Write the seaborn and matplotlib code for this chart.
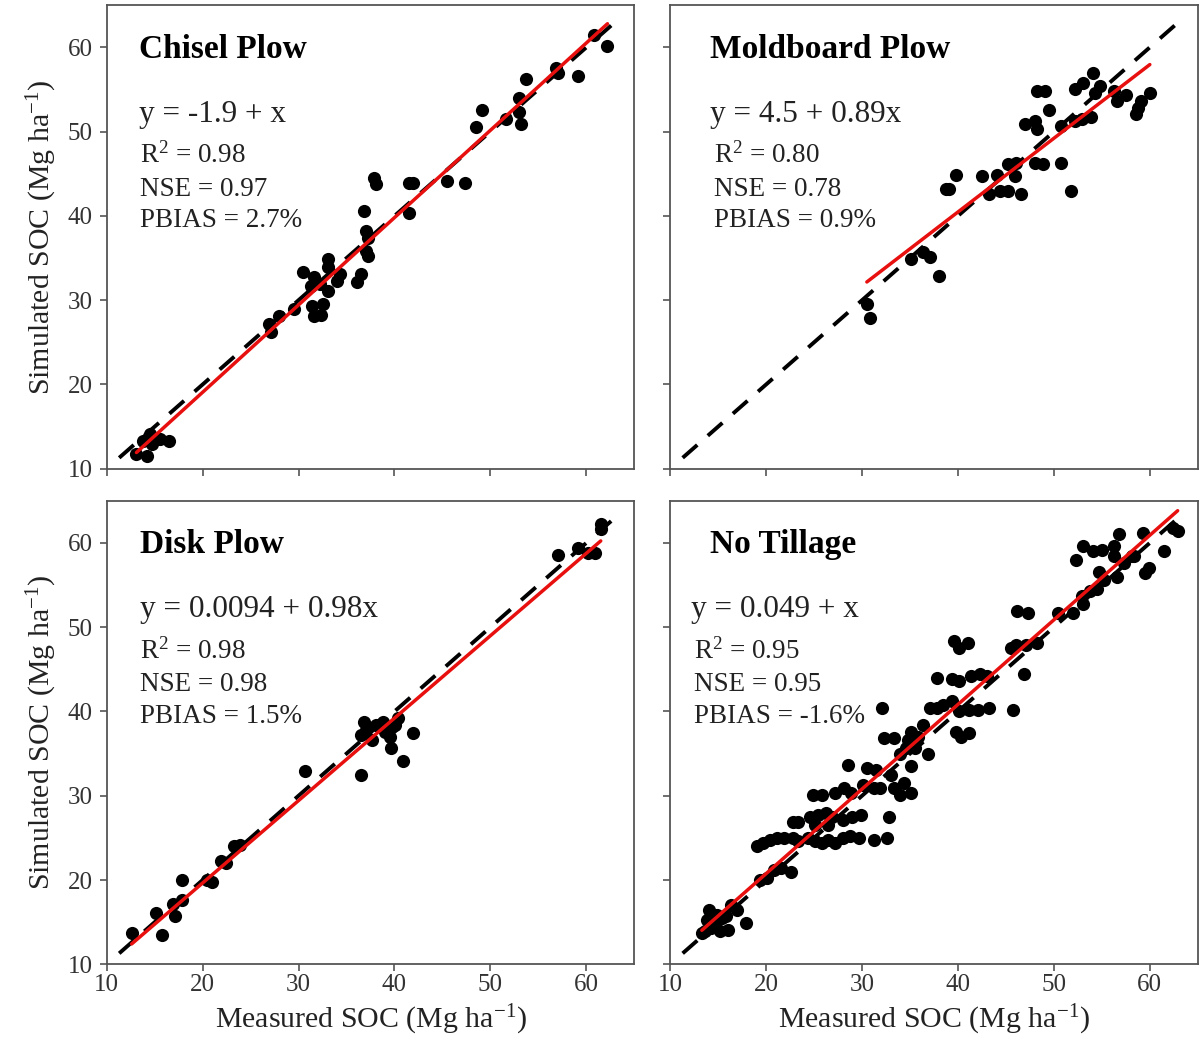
import pandas as pd
import matplotlib
matplotlib.use("Agg")
import matplotlib.pyplot as plt
import seaborn as sns

# panel names and fit statistics as printed on the chart
titles = ["Chisel Plow", "Moldboard Plow", "Disk Plow", "No Tillage"]
equations = ["y = -1.9 + x", "y = 4.5 + 0.89x", "y = 0.0094 + 0.98x", "y = 0.049 + x"]
r2_values = ["0.98", "0.80", "0.98", "0.95"]
nse_values = ["0.97", "0.78", "0.98", "0.95"]
pbias_values = ["2.7%", "0.9%", "1.5%", "-1.6%"]

# measured vs simulated SOC (Mg ha-1)
chisel_measured = [13.1, 14.2, 13.8, 14.7, 15.6, 16.5, 14.5, 26.9, 27.1, 28.0, 29.5,
                   30.5, 31.6, 31.3, 33.1, 33.1, 34.3, 34.0, 33.1, 32.5, 31.4, 31.6, 32.3, 32.2,
                   36.5, 36.1, 36.8, 37.0, 37.2, 37.0, 37.2, 37.9, 38.1,
                   41.5, 41.5, 41.9, 45.5, 47.3, 48.5, 49.1, 51.6, 53.0, 53.2, 53.0, 53.7,
                   56.8, 57.0, 59.1, 60.8, 62.2]
chisel_simulated = [11.7, 11.5, 13.3, 12.9, 13.5, 13.3, 14.1, 27.2, 26.2, 28.1, 28.9,
                    33.3, 32.7, 31.7, 34.9, 33.9, 33.1, 32.3, 31.1, 29.5, 29.3, 28.1, 28.3, 31.9,
                    33.1, 32.1, 40.6, 38.2, 37.4, 35.8, 35.3, 44.5, 43.8,
                    40.4, 43.9, 43.9, 44.1, 43.9, 50.5, 52.6, 51.5, 52.3, 50.9, 54.0, 56.2,
                    57.6, 57.0, 56.6, 61.5, 60.2]

moldboard_measured = [30.5, 30.8, 35.1, 36.4, 37.1, 38.0, 38.7, 39.1, 39.8, 42.5, 43.2,
                      44.1, 44.4, 45.2, 45.2, 46.1, 45.9, 46.6, 47.0, 48.0, 48.2, 48.2,
                      49.1, 49.5, 48.0, 48.9, 50.7, 50.7, 51.8, 52.2, 52.9, 53.9, 52.2,
                      53.0, 54.1, 54.8, 54.3, 56.3, 56.6, 57.5, 58.6, 58.8, 59.1, 60.0]
moldboard_simulated = [29.5, 27.9, 34.9, 35.7, 35.1, 32.9, 43.2, 43.2, 44.9, 44.7, 42.6,
                       44.9, 43.0, 43.0, 46.1, 46.3, 44.7, 42.6, 50.9, 51.3, 50.3, 54.8,
                       54.8, 52.6, 46.3, 46.1, 50.7, 46.3, 43.0, 51.3, 51.5, 51.7, 55.1,
                       55.8, 57.0, 55.4, 54.6, 54.8, 53.6, 54.4, 52.1, 52.8, 53.6, 54.6]

disk_measured = [12.6, 15.8, 15.1, 17.1, 16.9, 17.9, 17.9, 20.5, 21.0, 21.9, 22.4, 23.3,
                 23.9, 30.7, 36.5, 36.5, 36.8, 37.0, 37.7, 38.1, 38.8, 39.0, 39.5, 39.7,
                 40.1, 40.4, 39.6, 40.9, 41.9, 57.0, 59.1, 60.2, 60.9, 61.5, 61.5]
disk_simulated = [13.7, 13.5, 16.1, 15.7, 17.2, 17.6, 20.0, 20.0, 19.8, 22.2, 22.0, 24.0,
                  24.2, 32.9, 32.5, 37.2, 38.8, 37.8, 36.6, 38.4, 38.8, 37.6, 37.0, 38.2,
                  38.4, 39.2, 35.7, 34.1, 37.4, 58.6, 59.4, 58.8, 58.8, 62.2, 61.6]

notill_measured = [13.3, 14.0, 13.8, 14.7, 15.2, 16.0, 15.8, 16.3, 17.0, 17.9, 14.3, 15.4,
                   13.6, 14.9, 19.4, 20.1, 20.8, 21.5, 22.6,
                   19.0, 19.7, 20.4, 21.1, 21.9, 22.8, 23.3, 24.4, 25.1, 25.8, 26.5, 27.2,
                   28.0, 28.7, 29.7, 31.2, 32.6,
                   22.8, 23.3, 24.6, 25.4, 26.2, 26.9, 28.0, 29.0, 29.9, 32.8, 25.1, 26.5,
                   24.9, 25.8, 27.2, 28.1, 28.9, 30.1, 31.2, 31.9, 33.3, 34.0, 35.1, 34.4,
                   28.5, 30.5, 31.5, 33.0, 32.1,
                   32.3, 33.3, 34.0, 34.8, 35.1, 35.8, 36.4, 36.9, 35.1, 34.6, 35.5,
                   37.1, 37.8, 38.4, 39.4, 40.1, 41.2, 42.1, 43.2, 45.7,
                   39.8, 40.3, 41.2, 37.8, 39.4, 40.1, 41.4, 42.3, 43.0,
                   39.6, 40.1, 41.0, 45.5, 46.0, 47.1, 48.2, 46.9, 46.2, 47.3,
                   50.4, 52.0, 53.0, 52.9, 53.8, 54.5, 55.2, 54.7, 56.6, 57.3, 58.4, 58.1,
                   52.3, 53.0, 54.1, 55.0, 56.3, 56.3, 56.8, 59.3, 59.5, 59.9, 61.5, 62.4, 62.9]
notill_simulated = [13.7, 16.5, 15.3, 14.7, 13.9, 14.1, 15.7, 17.0, 16.5, 14.9, 14.3, 15.5,
                    13.9, 15.9, 20.0, 20.2, 21.2, 21.4, 21.0,
                    24.0, 24.4, 24.8, 25.0, 25.0, 25.0, 24.6, 25.0, 24.6, 24.4, 24.8, 24.4,
                    25.0, 25.2, 25.0, 24.8, 25.0,
                    26.9, 26.9, 27.5, 27.7, 27.9, 27.5, 27.1, 27.5, 27.7, 27.5, 26.5, 26.5,
                    30.1, 30.1, 30.3, 30.9, 30.3, 31.3, 30.9, 30.9, 30.9, 30.1, 30.3, 31.5,
                    33.7, 33.3, 33.1, 32.5, 40.4,
                    36.8, 36.8, 34.9, 36.6, 37.6, 37.0, 38.4, 34.9, 33.5, 35.7, 35.7,
                    40.4, 40.4, 40.8, 41.2, 40.0, 40.2, 40.2, 40.4, 40.2,
                    37.6, 37.0, 37.4, 44.0, 43.8, 43.6, 44.2, 44.4, 44.2,
                    48.3, 47.5, 48.1, 47.5, 47.9, 47.9, 48.1, 44.4, 51.9, 51.7,
                    51.7, 51.7, 52.7, 53.7, 54.3, 54.5, 55.6, 56.6, 56.0, 57.6, 58.4, 58.4,
                    58.0, 59.6, 59.0, 59.2, 59.6, 58.4, 61.0, 61.2, 56.4, 57.0, 59.0, 61.8, 61.4]

# 1:1 reference line extent
one_to_one = [11.3, 63.6]

frames = []
for name, meas, sim in zip(titles,
                           [chisel_measured, moldboard_measured, disk_measured, notill_measured],
                           [chisel_simulated, moldboard_simulated, disk_simulated, notill_simulated]):
    frames.append(pd.DataFrame({"panel": name, "measured": meas, "simulated": sim}))
df = pd.concat(frames, ignore_index=True)

sns.set_theme(style="ticks")
plt.rcParams["font.family"] = ["Liberation Serif", "DejaVu Serif"]
plt.rcParams["mathtext.fontset"] = "custom"
plt.rcParams["mathtext.rm"] = "Liberation Serif"
plt.rcParams["mathtext.it"] = "Liberation Serif:italic"
plt.rcParams["mathtext.bf"] = "Liberation Serif:bold"

fig, axes = plt.subplots(2, 2, figsize=(11.99, 10.38), dpi=100, sharex=True, sharey=True)
fig.subplots_adjust(left=0.089, right=0.999, top=0.995, bottom=0.071, wspace=0.068, hspace=0.069)

# text anchors (axes fraction) per panel: title x, equation x, stats x
text_x = [(0.062, 0.062, 0.064), (0.076, 0.076, 0.083), (0.064, 0.064, 0.064), (0.076, 0.040, 0.046)]
text_color = "#222222"

for i, ax in enumerate(axes.flat):
    sub = df[df["panel"] == titles[i]]
    sns.scatterplot(data=sub, x="measured", y="simulated", ax=ax, color="black",
                    s=90, edgecolor="black", linewidth=0, zorder=2, legend=False)
    ax.plot(one_to_one, one_to_one, color="black", lw=2.8, dashes=(5, 3.6), zorder=3)
    sns.regplot(data=sub, x="measured", y="simulated", ax=ax, scatter=False, ci=None,
                truncate=True, line_kws={"color": "#e8100f", "lw": 2.5, "zorder": 4})

    ax.set_xlim(10, 65)
    ax.set_ylim(10, 65)
    ax.set_xticks([10, 20, 30, 40, 50, 60])
    ax.set_yticks([10, 20, 30, 40, 50, 60])
    for sp in ax.spines.values():
        sp.set_color("#555555")
        sp.set_linewidth(1.3)
    ax.tick_params(direction="out", length=5, width=1.2, color="#555555",
                   labelsize=18, labelcolor="#333333")
    ax.tick_params(axis="x", pad=2)
    ax.tick_params(axis="y", pad=5)
    ax.set_xlabel("")
    ax.set_ylabel("")

    tx, ex, sx = text_x[i]
    ax.text(tx, 0.905, titles[i], transform=ax.transAxes, fontsize=24, fontweight="bold",
            color="black", va="center", ha="left")
    ax.text(ex, 0.765, equations[i], transform=ax.transAxes, fontsize=22.5,
            color=text_color, va="center", ha="left")
    ax.text(sx, 0.675, "R$^2$ = " + r2_values[i], transform=ax.transAxes, fontsize=19.5,
            color=text_color, va="center", ha="left")
    ax.text(sx, 0.603, "NSE = " + nse_values[i], transform=ax.transAxes, fontsize=19.5,
            color=text_color, va="center", ha="left")
    ax.text(sx, 0.535, "PBIAS = " + pbias_values[i], transform=ax.transAxes, fontsize=19.5,
            color=text_color, va="center", ha="left")

for ax in axes[:, 0]:
    ax.set_ylabel("Simulated SOC (Mg ha$^{-1}$)", fontsize=21.5, color=text_color, labelpad=6)
for ax in axes[1, :]:
    ax.set_xlabel("Measured SOC (Mg ha$^{-1}$)", fontsize=21.5, color=text_color, labelpad=5)

fig.savefig("out.png", dpi=100)
